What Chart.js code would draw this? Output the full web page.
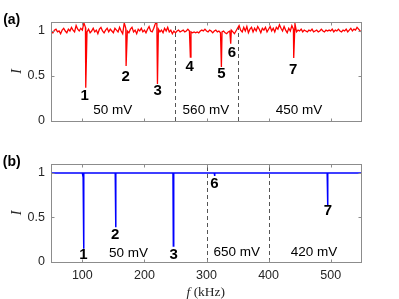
<!DOCTYPE html>
<html><head><meta charset="utf-8">
<script src="https://cdn.jsdelivr.net/npm/chart.js@4.4.1/dist/chart.umd.min.js"></script>
<style>
html,body{margin:0;padding:0;background:#fff;}
#wrap{position:relative;width:399px;height:299px;overflow:hidden;}
#c1{position:absolute;left:0;top:0;}
#c2{position:absolute;left:0;top:140px;}
</style></head><body>
<div id="wrap"><canvas id="c1" width="399" height="140"></canvas><canvas id="c2" width="399" height="159"></canvas></div>
<script>
// ---- axes ----
const xTicks = [100, 200, 300, 400, 500];
const yTicks = [0, 0.5, 1];
const yTickLabels = ['0', '0.5', '1'];
const xMin = 50, xMax = 550;
const yMin = 0, yMax = 1.1;

// ---- panel (a): measured (red), sampled every 2.5 kHz from 50 kHz ----
const redStartF = 50, redStepF = 2.5;
const redBaseI = [
  1.00, 0.98, 1.01, 1.02, 0.99, 1.00, 0.97, 1.01, 1.03, 1.00, 0.98, 1.02, 1.00, 1.04, 1.01, 0.99, 1.06, 1.02, 1.00, 1.03,
  1.01, 1.09, 1.04, 0.99, 1.02, 0.98, 1.00, 1.03, 0.99, 1.01, 0.97, 1.02, 1.04, 1.00, 0.98, 1.01, 1.03, 0.99, 1.02, 1.00,
  0.98, 1.03, 1.01, 0.99, 1.04, 1.00, 0.97, 1.09, 1.03, 1.00, 0.98, 1.02, 1.04, 0.99, 1.01, 0.97, 1.02, 1.00, 1.03, 0.99,
  1.01, 0.98, 1.02, 1.05, 1.00, 0.99, 1.03, 1.08, 1.10, 1.02, 0.99, 1.01, 0.98, 1.03, 1.00, 1.04, 0.99, 1.01, 0.97, 1.00,
  0.98, 1.00, 1.01, 0.99, 1.00, 1.01, 0.99, 1.00, 1.02, 1.00, 0.99, 0.98, 0.99, 0.98, 0.99, 0.98, 1.00, 1.01, 1.00, 1.02,
  1.00, 0.99, 1.01, 1.00, 0.98, 1.00, 1.01, 0.99, 1.00, 0.98, 0.99, 1.00, 0.98, 0.97, 0.99, 1.00, 1.01, 0.99, 0.97, 1.00,
  1.03, 1.06, 1.01, 0.99, 1.04, 1.00, 1.05, 0.98, 1.02, 1.04, 0.99, 1.03, 1.00, 1.05, 1.02, 0.98, 1.03, 1.01, 1.04, 0.99,
  1.02, 1.05, 1.00, 1.03, 0.99, 1.04, 1.02, 1.07, 1.03, 1.00, 1.05, 1.01, 0.98, 1.03, 1.00, 1.06, 1.02, 1.08, 0.99, 1.01,
  1.00, 1.02, 0.99, 1.01, 1.00, 0.99, 1.01, 1.00, 1.02, 0.99, 1.00, 1.01, 0.99, 1.00, 1.02, 1.00, 0.99, 1.01, 1.00, 1.01,
  1.00, 1.02, 0.99, 1.01, 1.00, 1.02, 1.00, 0.99, 1.01, 1.00, 1.02, 0.99, 1.01, 1.03, 1.00, 1.02, 1.01, 1.04, 1.02, 1.00,
  0.99
];
const redDipF = [105.5, 170.5, 221, 274, 324, 339, 440.5];
const redDipI = [0.37, 0.61, 0.41, 0.71, 0.60, 0.86, 0.70];
const dashA = [250, 350];
const peakAText = ['1', '2', '3', '4', '5', '6', '7'];
const peakAF = [103.7, 169.8, 221.5, 273, 324.2, 340.8, 439.7];
const peakAI = [0.278, 0.492, 0.333, 0.603, 0.522, 0.761, 0.567];
const voltAText = ['50 mV', '560 mV', '450 mV'];
const voltAF = [149, 299, 449];
const voltAI = [0.117, 0.117, 0.117];

// ---- panel (b): simulated (blue) ----
const blueF = [50, 100, 101.3, 102, 102.6, 153, 153.6, 154.2, 246, 246.6, 247.2, 312.5, 313, 313.5, 494.4, 495, 495.6, 550];
const blueI = [1, 1, 0.95, 0.15, 1, 1, 0.39, 1, 1, 0.18, 1, 1, 0.966, 1, 1, 0.64, 1, 1];
const dashB = [300, 400];
const peakBText = ['1', '2', '3', '6', '7'];
const peakBF = [101.6, 152.9, 247.3, 312.6, 495.6];
const peakBI = [0.075, 0.303, 0.075, 0.876, 0.575];
const voltBText = ['50 mV', '650 mV', '420 mV'];
const voltBF = [174.4, 348.9, 473.1];
const voltBI = [0.103, 0.109, 0.109];

// build series
const redPts = redBaseI.map((v, i) => ({x: redStartF + i * redStepF, y: v}));
redDipF.forEach((f, i) => redPts.push({x: f, y: redDipI[i]}));
redPts.sort((a, b) => a.x - b.x);
const bluePts = blueF.map((f, i) => ({x: f, y: blueI[i]}));

const SANS = '"Liberation Sans", Arial, Helvetica, sans-serif';
const SERIF = '"Liberation Serif", "Times New Roman", serif';
const TXT = '#262626';

function panelPlugin(p) {
  return {
    id: 'panel_' + p.name,
    beforeDatasetsDraw(chart) {
      const {ctx, chartArea: a, scales: {x}} = chart;
      ctx.save();
      ctx.strokeStyle = '#555';
      ctx.lineWidth = 1;
      ctx.setLineDash([4, 3]);
      p.dash.forEach(f => {
        const px = Math.round(x.getPixelForValue(f)) + 0.5;
        ctx.beginPath(); ctx.moveTo(px, a.bottom); ctx.lineTo(px, a.top); ctx.stroke();
      });
      ctx.restore();
    },
    afterDatasetsDraw(chart) {
      const {ctx, chartArea: a, scales: {x, y}} = chart;
      ctx.save();
      const L = Math.floor(a.left) + 0.5, R = Math.floor(a.right) + 0.5;
      const T = Math.floor(a.top) + 0.5, B = Math.floor(a.bottom) + 0.5;
      ctx.strokeStyle = '#8c8c8c';
      ctx.lineWidth = 1;
      ctx.strokeRect(L, T, R - L, B - T);
      ctx.beginPath();
      xTicks.forEach(v => {
        const px = Math.round(x.getPixelForValue(v)) + 0.5;
        ctx.moveTo(px, B); ctx.lineTo(px, B - 3);
        ctx.moveTo(px, T); ctx.lineTo(px, T + 3);
      });
      yTicks.forEach(v => {
        const py = Math.round(y.getPixelForValue(v)) + 0.5;
        ctx.moveTo(L, py); ctx.lineTo(L + 3, py);
        ctx.moveTo(R, py); ctx.lineTo(R - 3, py);
      });
      ctx.stroke();
      ctx.fillStyle = '#000';
      ctx.textAlign = 'center';
      ctx.textBaseline = 'middle';
      ctx.font = 'bold 15px ' + SANS;
      p.peakText.forEach((t, i) => ctx.fillText(t, x.getPixelForValue(p.peakF[i]), y.getPixelForValue(p.peakI[i])));
      ctx.font = '13.5px ' + SANS;
      p.voltText.forEach((t, i) => ctx.fillText(t, x.getPixelForValue(p.voltF[i]), y.getPixelForValue(p.voltI[i])));
      ctx.font = 'bold 14px ' + SANS;
      ctx.fillText(p.letter, 11.7, a.top - 2);
      if (p.xTitle) {
        ctx.textAlign = 'left';
        ctx.fillStyle = TXT;
        ctx.font = 'italic 13.5px ' + SERIF;
        const x0 = 186.5, yT = chart.height - 6.3;
        ctx.fillText('f', x0, yT);
        const w = ctx.measureText('f').width;
        ctx.font = '13.5px ' + SERIF;
        ctx.fillText(' (kHz)', x0 + w, yT);
      }
      ctx.restore();
    }
  };
}

function makeChart(id, pts, color, lw, p, isBottom) {
  return new Chart(document.getElementById(id), {
    type: 'line',
    data: {datasets: [{data: pts, borderColor: color, borderWidth: lw, pointRadius: 0, tension: 0, fill: false}]},
    options: {
      responsive: false,
      animation: false,
      devicePixelRatio: 1,
      events: [],
      layout: {padding: {left: 0, right: 37.3, top: isBottom ? 24 : 22, bottom: isBottom ? 0 : 19}},
      plugins: {legend: {display: false}, tooltip: {enabled: false}},
      scales: {
        x: {
          type: 'linear', min: xMin, max: xMax,
          display: isBottom,
          afterBuildTicks: s => { s.ticks = xTicks.map(v => ({value: v})); },
          afterFit: s => { if (isBottom) s.height = 37; },
          grid: {display: false, drawTicks: false},
          border: {display: false},
          ticks: {padding: 6, color: TXT, font: {family: SANS, size: 12.5}, maxRotation: 0,
                  callback: v => String(v)}
        },
        y: {
          type: 'linear', min: yMin, max: yMax,
          afterBuildTicks: s => { s.ticks = yTicks.map(v => ({value: v})); },
          afterFit: s => { s.width = 51.3; },
          grid: {display: false, drawTicks: false},
          border: {display: false},
          ticks: {padding: 6.3, color: TXT, font: {family: SANS, size: 12.5},
                  callback: v => yTickLabels[yTicks.indexOf(v)]},
          title: {display: true, text: 'I', color: TXT, font: {family: SERIF, style: 'italic', size: 14}, padding: {top: 9, bottom: 0}}
        }
      }
    },
    plugins: [panelPlugin(p)]
  });
}

makeChart('c1', redPts, '#ff0000', 1.3, {
  name: 'a', letter: '(a)', dash: dashA,
  peakText: peakAText, peakF: peakAF, peakI: peakAI,
  voltText: voltAText, voltF: voltAF, voltI: voltAI, xTitle: false
}, false);
makeChart('c2', bluePts, '#0000ff', 1.5, {
  name: 'b', letter: '(b)', dash: dashB,
  peakText: peakBText, peakF: peakBF, peakI: peakBI,
  voltText: voltBText, voltF: voltBF, voltI: voltBI, xTitle: true
}, true);
</script>
</body></html>
